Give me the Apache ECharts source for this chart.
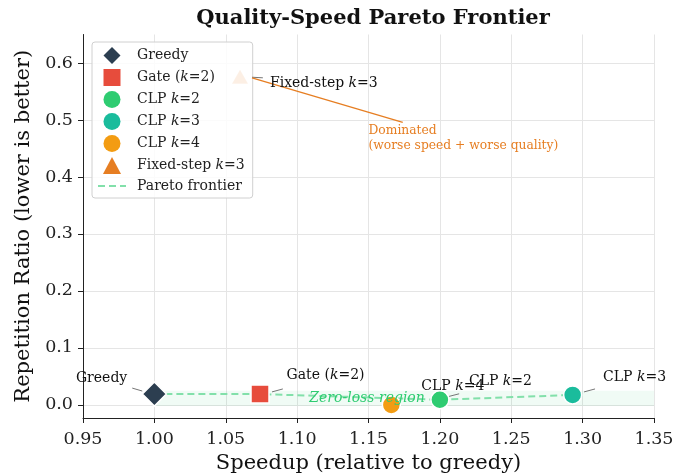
<!DOCTYPE html>
<html>
<head>
<meta charset="utf-8">
<script src="https://cdn.jsdelivr.net/npm/echarts@6/dist/echarts.min.js"></script>
<style>
  html, body { margin: 0; padding: 0; background: #fff; }
  #chart { width: 684px; height: 474px; }
</style>
</head>
<body>
<div id="chart"></div>
<script>
// methods: name, speedup, repetition ratio
const methodNames = ['Greedy', 'Gate (k=2)', 'CLP k=2', 'CLP k=3', 'CLP k=4', 'Fixed-step k=3']
const speedups = [1.0, 1.074, 1.2, 1.293, 1.166, 1.06]
const repRatios = [0.019, 0.019, 0.009, 0.0175, 0.0, 0.576]
const colors = ['#2c3e50', '#e74c3c', '#2ecc71', '#1abc9c', '#f39c12', '#e67e22']
const symbols = ['diamond', 'rect', 'circle', 'circle', 'circle', 'triangle']
const symbolSizes = [[24, 24], [18, 18], [18, 18], [18, 18], [18, 18], [16, 14]]

// legend icons (keep aspect)
const legendIcons = [
  'path://M0,-1L1,0L0,1L-1,0Z',
  'path://M0,0L1,0L1,1L0,1Z',
  'circle',
  'circle',
  'circle',
  'path://M0,-1L0.9,0.7L-0.9,0.7Z',
]

// Pareto frontier goes through these methods (by index)
const paretoIdx = [0, 1, 2, 3]

// zero-loss band
const zeroBandX = [1.0, 1.35]
const zeroBandY = [-0.002, 0.025]

// annotation text positions (data space) and connector ends
const annoText = ['Greedy', 'Gate ({i|k}=2)', 'CLP {i|k}=2', 'CLP {i|k}=3', 'CLP {i|k}=4', 'Fixed-step {i|k}=3']
const annoPos = [[0.981, 0.047], [1.0926, 0.051], [1.2204, 0.041], [1.3143, 0.049], [1.187, 0.032], [1.081, 0.565]]
const annoAlign = ['right', 'left', 'left', 'left', 'left', 'left']
const connFrom = [[0.9845, 0.0295], [1.0824, 0.0228], [1.2055, 0.0143], [1.301, 0.0228], null, [1.0684, 0.575]]
const connTo = [[0.9915, 0.0243], [1.090, 0.028], [1.2135, 0.0195], [1.3087, 0.028], null, [1.076, 0.574]]

const dominatedFrom = [1.0684, 0.574]
const dominatedTo = [1.174, 0.496]
const dominatedText = [1.150, 0.4675]
const zeroLossText = [1.149, 0.012]

const yTicks = [0, 0.1, 0.2, 0.3, 0.4, 0.5, 0.6]

const serif = 'DejaVu Serif'
const chart = echarts.init(document.getElementById('chart'))

const methodSeries = methodNames.map((name, i) => ({
  name,
  type: 'scatter',
  symbol: symbols[i],
  symbolSize: symbolSizes[i],
  z: 5,
  itemStyle: {
    color: colors[i],
    borderColor: '#fff',
    borderWidth: 1.5,
    opacity: name.startsWith('Fixed') ? 0.12 : 1,
  },
  data: [[speedups[i], repRatios[i]]],
}))

// connector lines for annotations (CLP k=4 has none)
const connectorData = connFrom
  .map((p, i) => (p ? { coords: [p, connTo[i]] } : null))
  .filter((d) => d)

function textPoint(pos, label) {
  return {
    value: pos,
    label: Object.assign({ show: true, position: 'inside', verticalAlign: 'middle', fontFamily: serif }, label),
  }
}

const option = {
  animation: false,
  backgroundColor: '#fff',
  title: {
    text: 'Quality-Speed Pareto Frontier',
    left: 368,
    textAlign: 'center',
    top: 3,
    textStyle: { fontFamily: serif, fontWeight: 'bold', fontSize: 21, color: '#111' },
  },
  grid: { left: 83, right: 30, top: 34.5, bottom: 56, containLabel: false, outerBoundsMode: 'none' },
  legend: {
    left: 92,
    top: 42,
    orient: 'vertical',
    itemGap: 5,
    itemWidth: 28,
    itemHeight: 17,
    padding: [5, 8, 5, 5],
    backgroundColor: 'rgba(255,255,255,0.85)',
    borderColor: '#d0d0d0',
    borderWidth: 1,
    borderRadius: 3,
    data: [
      ...methodNames.map((name, i) => ({
        name,
        icon: legendIcons[i],
        itemStyle: { color: colors[i], opacity: 1, borderWidth: 0 },
      })),
      { name: 'Pareto frontier', itemStyle: { color: 'transparent', borderWidth: 0 } },
    ],
    textStyle: {
      fontFamily: serif,
      fontSize: 14,
      color: '#222',
      padding: [0, 0, 0, 6],
      rich: { i: { fontFamily: serif, fontStyle: 'italic', fontSize: 14, color: '#222' } },
    },
    formatter: (name) => name.replace(/k=/, '{i|k}='),
  },
  xAxis: {
    type: 'value',
    min: 0.95,
    max: 1.35,
    interval: 0.05,
    name: 'Speedup (relative to greedy)',
    nameLocation: 'middle',
    nameGap: 32,
    nameTextStyle: { fontFamily: serif, fontSize: 21, color: '#111' },
    axisLine: { onZero: false, lineStyle: { color: '#222', width: 1 } },
    axisTick: { show: true, length: 5, lineStyle: { color: '#222' } },
    axisLabel: {
      fontFamily: serif,
      fontSize: 17.5,
      color: '#222',
      margin: 12,
      formatter: (v) => v.toFixed(2),
    },
    splitLine: { show: true, lineStyle: { color: '#e5e5e5', width: 1 } },
  },
  yAxis: {
    type: 'value',
    min: -0.023,
    max: 0.65,
    name: 'Repetition Ratio (lower is better)',
    nameLocation: 'middle',
    nameGap: 47,
    nameTextStyle: { fontFamily: serif, fontSize: 21, color: '#111' },
    axisLine: { show: true, lineStyle: { color: '#222', width: 1 } },
    axisTick: { show: true, length: 5, lineStyle: { color: '#222' }, customValues: yTicks },
    axisLabel: {
      fontFamily: serif,
      fontSize: 17.5,
      color: '#222',
      margin: 10,
      customValues: yTicks,
      formatter: (v) => v.toFixed(1),
    },
    splitLine: { show: true, lineStyle: { color: '#e5e5e5', width: 1 } },
  },
  series: [
    {
      name: 'zero-band',
      type: 'line',
      data: [],
      silent: true,
      markArea: {
        silent: true,
        itemStyle: { color: 'rgba(46,204,113,0.07)' },
        data: [[{ coord: [zeroBandX[0], zeroBandY[0]] }, { coord: [zeroBandX[1], zeroBandY[1]] }]],
      },
    },
    {
      name: 'Pareto frontier',
      type: 'line',
      symbol: 'none',
      z: 3,
      lineStyle: { color: '#82e0aa', width: 2, type: [7, 4] },
      itemStyle: { color: '#82e0aa' },
      data: paretoIdx.map((i) => [speedups[i], repRatios[i]]),
    },
    ...methodSeries,
    {
      name: 'connectors',
      type: 'lines',
      coordinateSystem: 'cartesian2d',
      silent: true,
      z: 4,
      lineStyle: { color: '#666', width: 0.9, opacity: 1 },
      data: connectorData,
    },
    {
      name: 'dominated-arrow',
      type: 'lines',
      coordinateSystem: 'cartesian2d',
      silent: true,
      z: 4,
      lineStyle: { color: '#e67e22', width: 1.3, opacity: 1 },
      data: [{ coords: [dominatedFrom, dominatedTo] }],
    },
    {
      name: 'annotations',
      type: 'scatter',
      symbol: 'circle',
      symbolSize: 1,
      itemStyle: { color: 'transparent', opacity: 1 },
      silent: true,
      z: 6,
      data: annoPos.map((p, i) =>
        textPoint(p, {
          align: annoAlign[i],
          formatter: annoText[i],
          fontSize: 14,
          color: '#111',
          rich: { i: { fontFamily: serif, fontStyle: 'italic', fontSize: 14, color: '#111' } },
        })
      ),
    },
    {
      name: 'notes',
      type: 'scatter',
      symbol: 'circle',
      symbolSize: 1,
      itemStyle: { color: 'transparent', opacity: 1 },
      silent: true,
      z: 6,
      data: [
        textPoint(dominatedText, {
          align: 'left',
          formatter: 'Dominated\n(worse speed + worse quality)',
          fontSize: 12.3,
          lineHeight: 14.5,
          color: '#e67e22',
        }),
        textPoint(zeroLossText, {
          align: 'center',
          formatter: 'Zero-loss region',
          fontStyle: 'italic',
          fontSize: 14,
          color: '#2ecc71',
        }),
      ],
    },
  ],
}

chart.setOption(option)
</script>
</body>
</html>
